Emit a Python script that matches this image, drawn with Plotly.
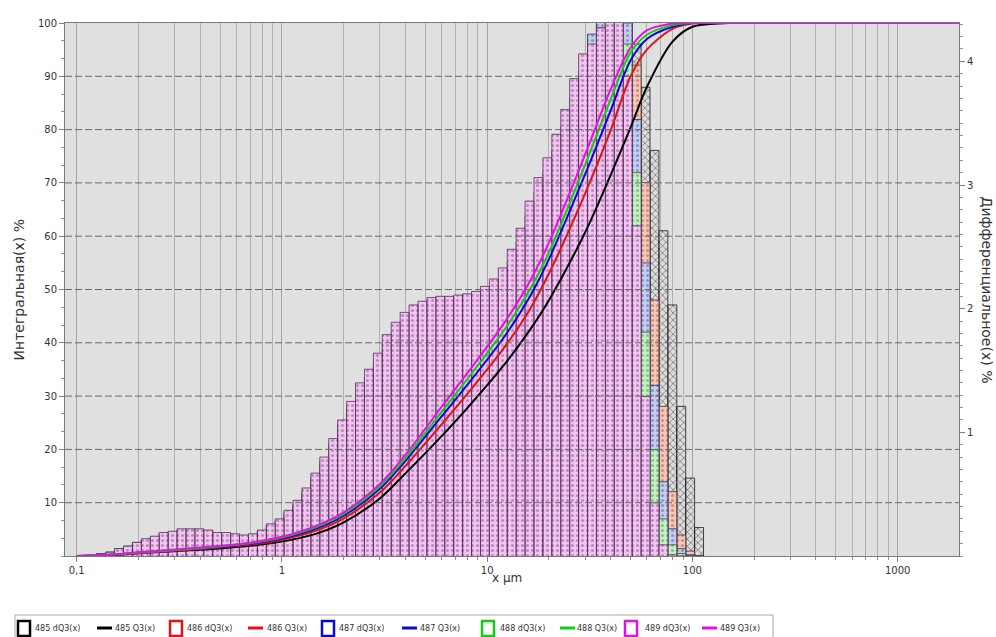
import plotly.graph_objects as go

# ---------------- data ----------------
BIN_EDGES = [0.1025, 0.1133, 0.1253, 0.1384, 0.1530, 0.1691, 0.1869, 0.2066, 0.2283, 0.2524,
             0.2790, 0.3083, 0.3408, 0.3767, 0.4163, 0.4603, 0.5087, 0.5623, 0.6215, 0.6871,
             0.7594, 0.8393, 0.9277, 1.025, 1.133, 1.253, 1.384, 1.530, 1.691, 1.869,
             2.066, 2.283, 2.524, 2.790, 3.083, 3.408, 3.767, 4.163, 4.603, 5.087,
             5.623, 6.215, 6.871, 7.594, 8.393, 9.277, 10.25, 11.33, 12.53, 13.84,
             15.30, 16.91, 18.69, 20.66, 22.83, 25.24, 27.90, 30.83, 34.08, 37.67,
             41.63, 46.03, 50.87, 56.23, 62.15, 68.71, 75.94, 83.93, 92.77, 102.5, 113.3]

DQ3_485 = [0.00, 0.00, 0.02, 0.02, 0.05, 0.06, 0.09, 0.11, 0.12, 0.15,
           0.16, 0.17, 0.17, 0.17, 0.16, 0.15, 0.15, 0.14, 0.13, 0.14,
           0.16, 0.20, 0.23, 0.29, 0.35, 0.43, 0.52, 0.62, 0.74, 0.86,
           0.98, 1.09, 1.18, 1.28, 1.40, 1.47, 1.54, 1.58, 1.61, 1.63,
           1.64, 1.64, 1.65, 1.65, 1.67, 1.70, 1.75, 1.82, 1.93, 2.07,
           2.24, 2.39, 2.50, 2.67, 2.84, 3.02, 3.23, 3.53, 3.88, 4.22,
           4.48, 4.57, 4.14, 3.79, 3.28, 2.63, 2.03, 1.21, 0.63, 0.23]
DQ3_486 = [0.00, 0.00, 0.02, 0.03, 0.05, 0.07, 0.10, 0.12, 0.14, 0.17,
           0.18, 0.19, 0.19, 0.19, 0.18, 0.17, 0.17, 0.16, 0.15, 0.16,
           0.18, 0.23, 0.26, 0.33, 0.40, 0.48, 0.59, 0.70, 0.84, 0.97,
           1.10, 1.23, 1.33, 1.44, 1.58, 1.66, 1.73, 1.79, 1.81, 1.84,
           1.85, 1.85, 1.86, 1.87, 1.88, 1.92, 1.97, 2.05, 2.18, 2.33,
           2.53, 2.69, 2.84, 3.02, 3.19, 3.40, 3.62, 3.88, 4.31, 4.53,
           4.57, 4.48, 3.97, 3.02, 2.07, 1.21, 0.52, 0.17, 0.04, 0.00]
DQ3_487 = [0.00, 0.00, 0.02, 0.03, 0.06, 0.07, 0.10, 0.13, 0.15, 0.18,
           0.19, 0.20, 0.20, 0.20, 0.20, 0.18, 0.18, 0.17, 0.16, 0.17,
           0.20, 0.24, 0.28, 0.34, 0.42, 0.51, 0.62, 0.74, 0.88, 1.02,
           1.16, 1.30, 1.40, 1.53, 1.66, 1.76, 1.83, 1.89, 1.92, 1.94,
           1.95, 1.95, 1.96, 1.97, 1.99, 2.03, 2.08, 2.17, 2.31, 2.46,
           2.67, 2.85, 3.02, 3.19, 3.38, 3.62, 3.84, 4.22, 4.40, 4.44,
           4.48, 4.31, 3.53, 2.37, 1.38, 0.60, 0.22, 0.06, 0.01, 0.00]
DQ3_488 = [0.00, 0.00, 0.02, 0.03, 0.06, 0.08, 0.11, 0.13, 0.15, 0.18,
           0.19, 0.21, 0.21, 0.21, 0.20, 0.18, 0.18, 0.17, 0.16, 0.17,
           0.20, 0.25, 0.29, 0.36, 0.43, 0.53, 0.64, 0.77, 0.91, 1.06,
           1.20, 1.34, 1.45, 1.57, 1.72, 1.81, 1.89, 1.95, 1.98, 2.01,
           2.02, 2.02, 2.03, 2.04, 2.05, 2.09, 2.15, 2.24, 2.38, 2.54,
           2.76, 2.94, 3.10, 3.28, 3.47, 3.71, 3.92, 4.09, 4.27, 4.44,
           4.48, 4.14, 3.10, 1.81, 0.86, 0.30, 0.09, 0.02, 0.00, 0.00]
DQ3_489 = [0.00, 0.00, 0.02, 0.03, 0.06, 0.08, 0.11, 0.14, 0.16, 0.19,
           0.20, 0.22, 0.22, 0.22, 0.21, 0.19, 0.19, 0.18, 0.17, 0.18,
           0.21, 0.26, 0.30, 0.37, 0.45, 0.55, 0.67, 0.80, 0.95, 1.10,
           1.25, 1.40, 1.51, 1.64, 1.79, 1.89, 1.97, 2.03, 2.06, 2.09,
           2.10, 2.10, 2.11, 2.12, 2.14, 2.18, 2.24, 2.33, 2.48, 2.65,
           2.87, 3.06, 3.22, 3.41, 3.61, 3.86, 4.06, 4.14, 4.27, 4.48,
           4.40, 3.88, 2.67, 1.29, 0.43, 0.09, 0.01, 0.00, 0.00, 0.00]

Q3_X = [0.1, 0.15, 0.2, 0.3, 0.5, 0.7, 1, 1.5, 2, 3, 4, 6, 8, 12, 16, 20, 30, 40, 50, 60, 80, 100, 150, 2100]
Q3_485 = [0, 0.2, 0.5, 0.9, 1.4, 1.9, 2.7, 4.3, 6.3, 10.8, 15.5, 22.5, 27.75, 35.7, 42.2, 48.0, 60.7, 71.5, 80.4, 88.0, 96.5, 99.3, 100, 100]
Q3_486 = [0, 0.2, 0.5, 1.0, 1.6, 2.1, 3.06, 4.9, 7.06, 11.9, 16.9, 24.7, 30.4, 38.9, 46.0, 53.0, 68.0, 79.9, 90.0, 95.0, 98.9, 99.9, 100, 100]
Q3_487 = [0, 0.3, 0.6, 1.1, 1.7, 2.3, 3.3, 5.3, 7.57, 12.6, 17.85, 26.2, 32.1, 40.9, 48.4, 55.7, 71.6, 83.6, 93.0, 97.0, 99.3, 100, 100, 100]
Q3_488 = [0, 0.3, 0.6, 1.1, 1.8, 2.4, 3.45, 5.55, 7.9, 13.05, 18.4, 27.05, 33.2, 42.2, 49.7, 57.0, 73.4, 85.7, 94.5, 97.8, 99.6, 100, 100, 100]
Q3_489 = [0, 0.3, 0.7, 1.2, 1.9, 2.5, 3.6, 5.8, 8.2, 13.5, 19.0, 28.0, 34.3, 43.5, 51.25, 58.8, 75.3, 87.6, 95.4, 98.6, 99.9, 100, 100, 100]

SAMPLES = ["485", "486", "487", "488", "489"]
X_TICKS = [0.1, 1, 10, 100, 1000]
X_TICK_TEXT = ["0,1", "1", "10", "100", "1000"]
LEFT_TICKS = [10, 20, 30, 40, 50, 60, 70, 80, 90, 100]
RIGHT_TICKS = [1, 2, 3, 4]
GRID_Y = [10, 20, 30, 40, 50, 60, 70, 80, 90]

# ---------------- styles / layout constants ----------------
LINE_COLORS = {"485": "#000000", "486": "#e01414", "487": "#0a0ad2", "488": "#14cc14", "489": "#e014e0"}
BAR_STYLE = {
    "485": dict(shape="x", bg="#dcdcdc", fg="#202020", outline="#1a1a1a"),
    "486": dict(shape=".", bg="#f6c6b6", fg="#9a5a50", outline="#5a3030"),
    "487": dict(shape=".", bg="#c6cef0", fg="#505aa0", outline="#303060"),
    "488": dict(shape=".", bg="#c4f0c4", fg="#509050", outline="#305030"),
    "489": dict(shape=".", bg="#f0c6f0", fg="#8a4a8a", outline="#5a2a5a"),
}
DQ3 = {"485": DQ3_485, "486": DQ3_486, "487": DQ3_487, "488": DQ3_488, "489": DQ3_489}
Q3 = {"485": Q3_485, "486": Q3_486, "487": Q3_487, "488": Q3_488, "489": Q3_489}

FONT = "DejaVu Sans"
W, H = 996, 637
ML, MR, MT, MB = 65, 37, 23, 81
PW, PH = W - ML - MR, H - MT - MB

# custom legend geometry (pixels)
LEG_BOX = (15, 773, 615, 645)
LEG_SQUARE_X = [18, 170, 322, 482, 625]
LEG_LINE_X = [97, 248, 402, 560, 702]
LEG_TEXT_X = [(33, 113), (185, 265), (337, 418), (498, 575), (643, 718)]
LEG_Y = 628


def px(xp):
    return (xp - ML) / PW


def py(yp):
    return (H - MB - yp) / PH


def bar_outline(edges, heights):
    xs, ys = [], []
    for i, h in enumerate(heights):
        xs += [edges[i], edges[i], edges[i + 1], edges[i + 1]]
        ys += [0, h, h, 0]
    return xs, ys


fig = go.Figure()

# histogram bars (right axis, base subplot)
for s in SAMPLES:
    st = BAR_STYLE[s]
    xs, ys = bar_outline(BIN_EDGES, DQ3[s])
    fig.add_trace(go.Scatter(
        x=xs, y=ys, yaxis="y", mode="lines", fill="toself",
        fillcolor=st["bg"],
        fillpattern=dict(shape=st["shape"], bgcolor=st["bg"], fgcolor=st["fg"],
                         size=5, solidity=0.3),
        line=dict(color=st["outline"], width=0.8),
        name=f"{s} dQ3(x)", showlegend=False, hoverinfo="skip"))

# cumulative curves (left axis, overlay subplot drawn on top)
for s in SAMPLES:
    fig.add_trace(go.Scatter(
        x=Q3_X, y=Q3[s], yaxis="y2", mode="lines",
        line=dict(color=LINE_COLORS[s], width=2, shape="spline", smoothing=0.9),
        name=f"{s} Q3(x)", showlegend=False))

minor_x = [m * d for d in (0.1, 1, 10, 100, 1000) for m in range(2, 10) if m * d <= 2000]

fig.update_layout(
    width=W, height=H,
    margin=dict(l=ML, r=MR, t=MT, b=MB),
    paper_bgcolor="white", plot_bgcolor="#e0e0e0",
    font=dict(family=FONT, size=10, color="#333333"),
    showlegend=False,
    xaxis=dict(
        type="log", range=[-1.057, 3.299],
        tickmode="array", tickvals=X_TICKS, ticktext=X_TICK_TEXT,
        ticks="outside", ticklen=5, tickcolor="#808080",
        showgrid=True, gridcolor="#a4a4a4", gridwidth=1,
        minor=dict(tickmode="array", tickvals=minor_x, ticks="outside", ticklen=3,
                   tickcolor="#909090", showgrid=True, gridcolor="#b0b0b0", gridwidth=1),
        showline=True, linecolor="#7a7a7a", linewidth=1, mirror=True,
        zeroline=False, tickfont=dict(size=10, family=FONT, color="#333333"),
    ),
    yaxis=dict(
        side="right", range=[0, 4.31],
        tickmode="array", tickvals=RIGHT_TICKS,
        ticks="outside", ticklen=5, tickcolor="#808080",
        minor=dict(dtick=0.1, tick0=0, ticks="outside", ticklen=3, tickcolor="#909090",
                   showgrid=False),
        showgrid=False, zeroline=False, showline=True, linecolor="#7a7a7a",
        tickfont=dict(size=10, family=FONT, color="#333333"),
    ),
    yaxis2=dict(
        overlaying="y", side="left", range=[0, 100],
        tickmode="array", tickvals=LEFT_TICKS,
        ticks="outside", ticklen=5, tickcolor="#808080",
        minor=dict(dtick=10 / 3, tick0=0, ticks="outside", ticklen=3, tickcolor="#909090",
                   showgrid=False),
        showgrid=False, zeroline=False, showline=True, linecolor="#7a7a7a",
        tickfont=dict(size=10, family=FONT, color="#333333"),
    ),
)

# dashed horizontal grid drawn over the bars
for g in GRID_Y:
    fig.add_shape(type="line", xref="paper", x0=0, x1=1, yref="y2", y0=g, y1=g,
                  layer="above", line=dict(color="#6a6a6a", width=1, dash="7px,3px"))

# axis titles
fig.add_annotation(text="x µm", xref="paper", yref="paper", x=px(507), y=py(578),
                   showarrow=False, font=dict(size=12, family=FONT, color="#333333"),
                   xanchor="center", yanchor="middle")
fig.add_annotation(text="Интегральная(x) %", xref="paper", yref="paper", x=px(18), y=0.5,
                   textangle=-90, showarrow=False,
                   font=dict(size=14, family=FONT, color="#333333"),
                   xanchor="center", yanchor="middle")
fig.add_annotation(text="Дифференциальное(x) %", xref="paper", yref="paper", x=px(987), y=0.5,
                   textangle=90, showarrow=False,
                   font=dict(size=14, family=FONT, color="#333333"),
                   xanchor="center", yanchor="middle")

# legend (drawn box with symbols + real text labels)
fig.add_shape(type="rect", xref="paper", yref="paper",
              x0=px(LEG_BOX[0]), x1=px(LEG_BOX[1]), y0=py(LEG_BOX[3]), y1=py(LEG_BOX[2]),
              line=dict(color="#a8a8a8", width=1), fillcolor="white", layer="above")
for i, s in enumerate(SAMPLES):
    c = LINE_COLORS[s]
    sx = LEG_SQUARE_X[i]
    fig.add_shape(type="rect", xref="paper", yref="paper",
                  x0=px(sx), x1=px(sx + 12), y0=py(LEG_Y + 8), y1=py(LEG_Y - 7),
                  line=dict(color=c, width=2.5), fillcolor="white", layer="above")
    lx = LEG_LINE_X[i]
    fig.add_shape(type="line", xref="paper", yref="paper",
                  x0=px(lx), x1=px(lx + 15), y0=py(LEG_Y), y1=py(LEG_Y),
                  line=dict(color=c, width=3), layer="above")
    for j, label in enumerate([f"{s} dQ3(x)", f"{s} Q3(x)"]):
        fig.add_annotation(text=label, xref="paper", yref="paper",
                           x=px(LEG_TEXT_X[i][j]), y=py(LEG_Y), xanchor="left", yanchor="middle",
                           showarrow=False, font=dict(size=8, family=FONT, color="#333333"))

fig.write_html("out.html", config={"displayModeBar": False},
               post_script="document.body.style.margin='0px';document.body.style.overflow='hidden';")
